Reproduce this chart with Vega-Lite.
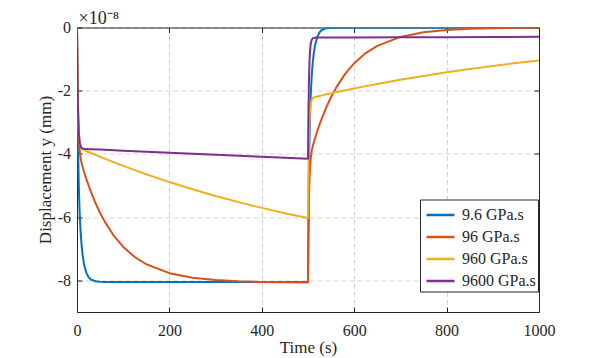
{
  "$schema": "https://vega.github.io/schema/vega-lite/v6.json",
  "width": 462,
  "height": 284.5,
  "autosize": "none",
  "padding": {"left": 77, "top": 27.5, "right": 55, "bottom": 46},
  "background": "white",
  "config": {
    "view": {"stroke": null},
    "axis": {
      "domainColor": "#262626", "domainWidth": 1, "tickColor": "#262626", "tickSize": -5, "tickWidth": 1,
      "labelFont": "serif", "labelFontSize": 16, "labelColor": "#262626",
      "titleFont": "serif", "titleFontSize": 17, "titleFontWeight": "normal", "titleColor": "#262626",
      "gridColor": "#d2d2d2", "gridDash": [5, 3], "gridWidth": 1,
      "labelFlush": false, "labelOverlap": false
    },
    "legend": {"labelFont": "serif", "labelFontSize": 16, "labelColor": "#262626"}
  },
  "datasets": {
    "d": [
      {"series": "9.6 GPa.s", "t": 0, "y": 0},
      {"series": "9.6 GPa.s", "t": 1, "y": -2.02},
      {"series": "9.6 GPa.s", "t": 2, "y": -3.389},
      {"series": "9.6 GPa.s", "t": 3, "y": -4.345},
      {"series": "9.6 GPa.s", "t": 4, "y": -5.034},
      {"series": "9.6 GPa.s", "t": 5, "y": -5.548},
      {"series": "9.6 GPa.s", "t": 6, "y": -5.943},
      {"series": "9.6 GPa.s", "t": 8, "y": -6.512},
      {"series": "9.6 GPa.s", "t": 10, "y": -6.899},
      {"series": "9.6 GPa.s", "t": 12, "y": -7.179},
      {"series": "9.6 GPa.s", "t": 15, "y": -7.47},
      {"series": "9.6 GPa.s", "t": 20, "y": -7.753},
      {"series": "9.6 GPa.s", "t": 25, "y": -7.898},
      {"series": "9.6 GPa.s", "t": 30, "y": -7.972},
      {"series": "9.6 GPa.s", "t": 40, "y": -8.029},
      {"series": "9.6 GPa.s", "t": 50, "y": -8.045},
      {"series": "9.6 GPa.s", "t": 60, "y": -8.049},
      {"series": "9.6 GPa.s", "t": 80, "y": -8.05},
      {"series": "9.6 GPa.s", "t": 200, "y": -8.05},
      {"series": "9.6 GPa.s", "t": 350, "y": -8.05},
      {"series": "9.6 GPa.s", "t": 500, "y": -8.05},
      {"series": "9.6 GPa.s", "t": 501, "y": -6.03},
      {"series": "9.6 GPa.s", "t": 502, "y": -4.661},
      {"series": "9.6 GPa.s", "t": 503, "y": -3.706},
      {"series": "9.6 GPa.s", "t": 504, "y": -3.016},
      {"series": "9.6 GPa.s", "t": 505, "y": -2.503},
      {"series": "9.6 GPa.s", "t": 506, "y": -2.107},
      {"series": "9.6 GPa.s", "t": 508, "y": -1.539},
      {"series": "9.6 GPa.s", "t": 510, "y": -1.151},
      {"series": "9.6 GPa.s", "t": 512, "y": -0.872},
      {"series": "9.6 GPa.s", "t": 515, "y": -0.58},
      {"series": "9.6 GPa.s", "t": 520, "y": -0.297},
      {"series": "9.6 GPa.s", "t": 525, "y": -0.152},
      {"series": "9.6 GPa.s", "t": 530, "y": -0.078},
      {"series": "9.6 GPa.s", "t": 540, "y": -0.021},
      {"series": "9.6 GPa.s", "t": 550, "y": -0.005},
      {"series": "9.6 GPa.s", "t": 560, "y": -0.001},
      {"series": "9.6 GPa.s", "t": 580, "y": 0},
      {"series": "9.6 GPa.s", "t": 800, "y": 0},
      {"series": "9.6 GPa.s", "t": 1000, "y": 0},

      {"series": "96 GPa.s", "t": 0, "y": 0},
      {"series": "96 GPa.s", "t": 1, "y": -1.544},
      {"series": "96 GPa.s", "t": 2, "y": -2.502},
      {"series": "96 GPa.s", "t": 3, "y": -3.105},
      {"series": "96 GPa.s", "t": 4, "y": -3.491},
      {"series": "96 GPa.s", "t": 5, "y": -3.746},
      {"series": "96 GPa.s", "t": 6, "y": -3.922},
      {"series": "96 GPa.s", "t": 8, "y": -4.145},
      {"series": "96 GPa.s", "t": 10, "y": -4.29},
      {"series": "96 GPa.s", "t": 12, "y": -4.405},
      {"series": "96 GPa.s", "t": 15, "y": -4.556},
      {"series": "96 GPa.s", "t": 20, "y": -4.784},
      {"series": "96 GPa.s", "t": 25, "y": -4.996},
      {"series": "96 GPa.s", "t": 30, "y": -5.194},
      {"series": "96 GPa.s", "t": 40, "y": -5.553},
      {"series": "96 GPa.s", "t": 50, "y": -5.867},
      {"series": "96 GPa.s", "t": 60, "y": -6.142},
      {"series": "96 GPa.s", "t": 80, "y": -6.594},
      {"series": "96 GPa.s", "t": 100, "y": -6.94},
      {"series": "96 GPa.s", "t": 125, "y": -7.26},
      {"series": "96 GPa.s", "t": 150, "y": -7.489},
      {"series": "96 GPa.s", "t": 200, "y": -7.772},
      {"series": "96 GPa.s", "t": 250, "y": -7.917},
      {"series": "96 GPa.s", "t": 300, "y": -7.991},
      {"series": "96 GPa.s", "t": 350, "y": -8.03},
      {"series": "96 GPa.s", "t": 400, "y": -8.049},
      {"series": "96 GPa.s", "t": 450, "y": -8.059},
      {"series": "96 GPa.s", "t": 500, "y": -8.065},
      {"series": "96 GPa.s", "t": 501, "y": -6.52},
      {"series": "96 GPa.s", "t": 502, "y": -5.563},
      {"series": "96 GPa.s", "t": 503, "y": -4.96},
      {"series": "96 GPa.s", "t": 504, "y": -4.574},
      {"series": "96 GPa.s", "t": 505, "y": -4.319},
      {"series": "96 GPa.s", "t": 506, "y": -4.143},
      {"series": "96 GPa.s", "t": 508, "y": -3.92},
      {"series": "96 GPa.s", "t": 510, "y": -3.775},
      {"series": "96 GPa.s", "t": 512, "y": -3.66},
      {"series": "96 GPa.s", "t": 515, "y": -3.51},
      {"series": "96 GPa.s", "t": 520, "y": -3.282},
      {"series": "96 GPa.s", "t": 525, "y": -3.07},
      {"series": "96 GPa.s", "t": 530, "y": -2.872},
      {"series": "96 GPa.s", "t": 540, "y": -2.514},
      {"series": "96 GPa.s", "t": 550, "y": -2.2},
      {"series": "96 GPa.s", "t": 560, "y": -1.925},
      {"series": "96 GPa.s", "t": 580, "y": -1.475},
      {"series": "96 GPa.s", "t": 600, "y": -1.129},
      {"series": "96 GPa.s", "t": 625, "y": -0.809},
      {"series": "96 GPa.s", "t": 650, "y": -0.58},
      {"series": "96 GPa.s", "t": 700, "y": -0.298},
      {"series": "96 GPa.s", "t": 750, "y": -0.153},
      {"series": "96 GPa.s", "t": 800, "y": -0.078},
      {"series": "96 GPa.s", "t": 850, "y": -0.04},
      {"series": "96 GPa.s", "t": 900, "y": -0.021},
      {"series": "96 GPa.s", "t": 950, "y": -0.011},
      {"series": "96 GPa.s", "t": 1000, "y": -0.005},

      {"series": "960 GPa.s", "t": 0, "y": 0},
      {"series": "960 GPa.s", "t": 1, "y": -1.494},
      {"series": "960 GPa.s", "t": 2, "y": -2.402},
      {"series": "960 GPa.s", "t": 3, "y": -2.956},
      {"series": "960 GPa.s", "t": 4, "y": -3.294},
      {"series": "960 GPa.s", "t": 5, "y": -3.502},
      {"series": "960 GPa.s", "t": 6, "y": -3.63},
      {"series": "960 GPa.s", "t": 8, "y": -3.762},
      {"series": "960 GPa.s", "t": 10, "y": -3.818},
      {"series": "960 GPa.s", "t": 12, "y": -3.847},
      {"series": "960 GPa.s", "t": 15, "y": -3.874},
      {"series": "960 GPa.s", "t": 20, "y": -3.907},
      {"series": "960 GPa.s", "t": 25, "y": -3.938},
      {"series": "960 GPa.s", "t": 30, "y": -3.969},
      {"series": "960 GPa.s", "t": 40, "y": -4.03},
      {"series": "960 GPa.s", "t": 50, "y": -4.09},
      {"series": "960 GPa.s", "t": 60, "y": -4.15},
      {"series": "960 GPa.s", "t": 80, "y": -4.265},
      {"series": "960 GPa.s", "t": 100, "y": -4.378},
      {"series": "960 GPa.s", "t": 125, "y": -4.513},
      {"series": "960 GPa.s", "t": 150, "y": -4.643},
      {"series": "960 GPa.s", "t": 200, "y": -4.89},
      {"series": "960 GPa.s", "t": 250, "y": -5.118},
      {"series": "960 GPa.s", "t": 300, "y": -5.329},
      {"series": "960 GPa.s", "t": 350, "y": -5.524},
      {"series": "960 GPa.s", "t": 400, "y": -5.706},
      {"series": "960 GPa.s", "t": 450, "y": -5.873},
      {"series": "960 GPa.s", "t": 500, "y": -6.029},
      {"series": "960 GPa.s", "t": 501, "y": -4.538},
      {"series": "960 GPa.s", "t": 502, "y": -3.632},
      {"series": "960 GPa.s", "t": 503, "y": -3.081},
      {"series": "960 GPa.s", "t": 504, "y": -2.746},
      {"series": "960 GPa.s", "t": 505, "y": -2.542},
      {"series": "960 GPa.s", "t": 506, "y": -2.416},
      {"series": "960 GPa.s", "t": 508, "y": -2.29},
      {"series": "960 GPa.s", "t": 510, "y": -2.24},
      {"series": "960 GPa.s", "t": 512, "y": -2.217},
      {"series": "960 GPa.s", "t": 515, "y": -2.199},
      {"series": "960 GPa.s", "t": 520, "y": -2.18},
      {"series": "960 GPa.s", "t": 525, "y": -2.164},
      {"series": "960 GPa.s", "t": 530, "y": -2.147},
      {"series": "960 GPa.s", "t": 540, "y": -2.114},
      {"series": "960 GPa.s", "t": 550, "y": -2.082},
      {"series": "960 GPa.s", "t": 560, "y": -2.05},
      {"series": "960 GPa.s", "t": 580, "y": -1.988},
      {"series": "960 GPa.s", "t": 600, "y": -1.928},
      {"series": "960 GPa.s", "t": 625, "y": -1.855},
      {"series": "960 GPa.s", "t": 650, "y": -1.785},
      {"series": "960 GPa.s", "t": 700, "y": -1.653},
      {"series": "960 GPa.s", "t": 750, "y": -1.531},
      {"series": "960 GPa.s", "t": 800, "y": -1.417},
      {"series": "960 GPa.s", "t": 850, "y": -1.312},
      {"series": "960 GPa.s", "t": 900, "y": -1.215},
      {"series": "960 GPa.s", "t": 950, "y": -1.125},
      {"series": "960 GPa.s", "t": 1000, "y": -1.042},

      {"series": "9600 GPa.s", "t": 0, "y": 0},
      {"series": "9600 GPa.s", "t": 1, "y": -1.508},
      {"series": "9600 GPa.s", "t": 2, "y": -2.422},
      {"series": "9600 GPa.s", "t": 3, "y": -2.978},
      {"series": "9600 GPa.s", "t": 4, "y": -3.315},
      {"series": "9600 GPa.s", "t": 5, "y": -3.519},
      {"series": "9600 GPa.s", "t": 6, "y": -3.643},
      {"series": "9600 GPa.s", "t": 8, "y": -3.765},
      {"series": "9600 GPa.s", "t": 10, "y": -3.811},
      {"series": "9600 GPa.s", "t": 12, "y": -3.829},
      {"series": "9600 GPa.s", "t": 15, "y": -3.838},
      {"series": "9600 GPa.s", "t": 20, "y": -3.843},
      {"series": "9600 GPa.s", "t": 30, "y": -3.85},
      {"series": "9600 GPa.s", "t": 50, "y": -3.863},
      {"series": "9600 GPa.s", "t": 100, "y": -3.896},
      {"series": "9600 GPa.s", "t": 150, "y": -3.929},
      {"series": "9600 GPa.s", "t": 200, "y": -3.961},
      {"series": "9600 GPa.s", "t": 250, "y": -3.993},
      {"series": "9600 GPa.s", "t": 300, "y": -4.025},
      {"series": "9600 GPa.s", "t": 350, "y": -4.057},
      {"series": "9600 GPa.s", "t": 400, "y": -4.088},
      {"series": "9600 GPa.s", "t": 450, "y": -4.119},
      {"series": "9600 GPa.s", "t": 500, "y": -4.15},
      {"series": "9600 GPa.s", "t": 501, "y": -2.643},
      {"series": "9600 GPa.s", "t": 502, "y": -1.729},
      {"series": "9600 GPa.s", "t": 503, "y": -1.174},
      {"series": "9600 GPa.s", "t": 504, "y": -0.838},
      {"series": "9600 GPa.s", "t": 505, "y": -0.634},
      {"series": "9600 GPa.s", "t": 506, "y": -0.511},
      {"series": "9600 GPa.s", "t": 508, "y": -0.39},
      {"series": "9600 GPa.s", "t": 510, "y": -0.346},
      {"series": "9600 GPa.s", "t": 512, "y": -0.329},
      {"series": "9600 GPa.s", "t": 515, "y": -0.322},
      {"series": "9600 GPa.s", "t": 520, "y": -0.319},
      {"series": "9600 GPa.s", "t": 550, "y": -0.318},
      {"series": "9600 GPa.s", "t": 600, "y": -0.315},
      {"series": "9600 GPa.s", "t": 700, "y": -0.31},
      {"series": "9600 GPa.s", "t": 800, "y": -0.305},
      {"series": "9600 GPa.s", "t": 900, "y": -0.3},
      {"series": "9600 GPa.s", "t": 1000, "y": -0.296}
    ]
  },
  "data": {"name": "d"},
  "layer": [
    {
      "mark": {"type": "line", "strokeWidth": 2, "strokeJoin": "round", "clip": true},
      "encoding": {
        "x": {"field": "t", "type": "quantitative", "scale": {"domain": [0, 1000], "nice": false},
              "axis": {"orient": "bottom", "values": [0, 200, 400, 600, 800, 1000], "grid": true, "labelPadding": 15, "labelExpr": "'' + datum.value", "title": "Time (s)", "titleY": 40, "titleBaseline": "alphabetic"}},
        "y": {"field": "y", "type": "quantitative", "scale": {"domain": [-9, 0], "nice": false},
              "axis": {"orient": "left", "values": [0, -2, -4, -6, -8], "grid": true, "labelPadding": 11.5,
                       "labelExpr": "datum.value == 0 ? '0' : '-' + abs(datum.value)",
                       "title": "Displacement y (mm)", "titleX": -27, "titleY": 142, "titleAngle": -90, "titleBaseline": "alphabetic", "titleAlign": "center"}},
        "color": {"field": "series", "type": "nominal",
                  "scale": {"domain": ["9.6 GPa.s", "96 GPa.s", "960 GPa.s", "9600 GPa.s"], "range": ["#0072BD", "#D95319", "#EDB120", "#7E2F8E"]},
                  "legend": {"title": null, "orient": "none", "legendX": 343, "legendY": 172, "strokeColor": "#262626", "fillColor": "white", "padding": 2, "symbolType": "M-1.17,0H1.17", "symbolSize": 576, "symbolStrokeWidth": 2.5, "symbolOffset": 5, "labelOffset": 8, "rowPadding": -4}}
      }
    },
    {
      "mark": {"type": "line", "opacity": 0},
      "encoding": {
        "x": {"field": "t", "type": "quantitative", "scale": {"domain": [0, 1000], "nice": false},
              "axis": {"orient": "top", "values": [0, 200, 400, 600, 800, 1000], "labels": false, "grid": false,
                       "title": "×10⁻⁸", "titleFont": "serif", "titleFontSize": 18, "titleX": 1, "titleY": -4, "titleAlign": "left", "titleAnchor": "start", "titleBaseline": "alphabetic", "titleAngle": 0}},
        "y": {"field": "y", "type": "quantitative", "scale": {"domain": [-9, 0], "nice": false},
              "axis": {"orient": "right", "values": [0, -2, -4, -6, -8], "labels": false, "grid": false, "title": null}}
      }
    }
  ],
  "resolve": {"axis": {"x": "independent", "y": "independent"}}
}
